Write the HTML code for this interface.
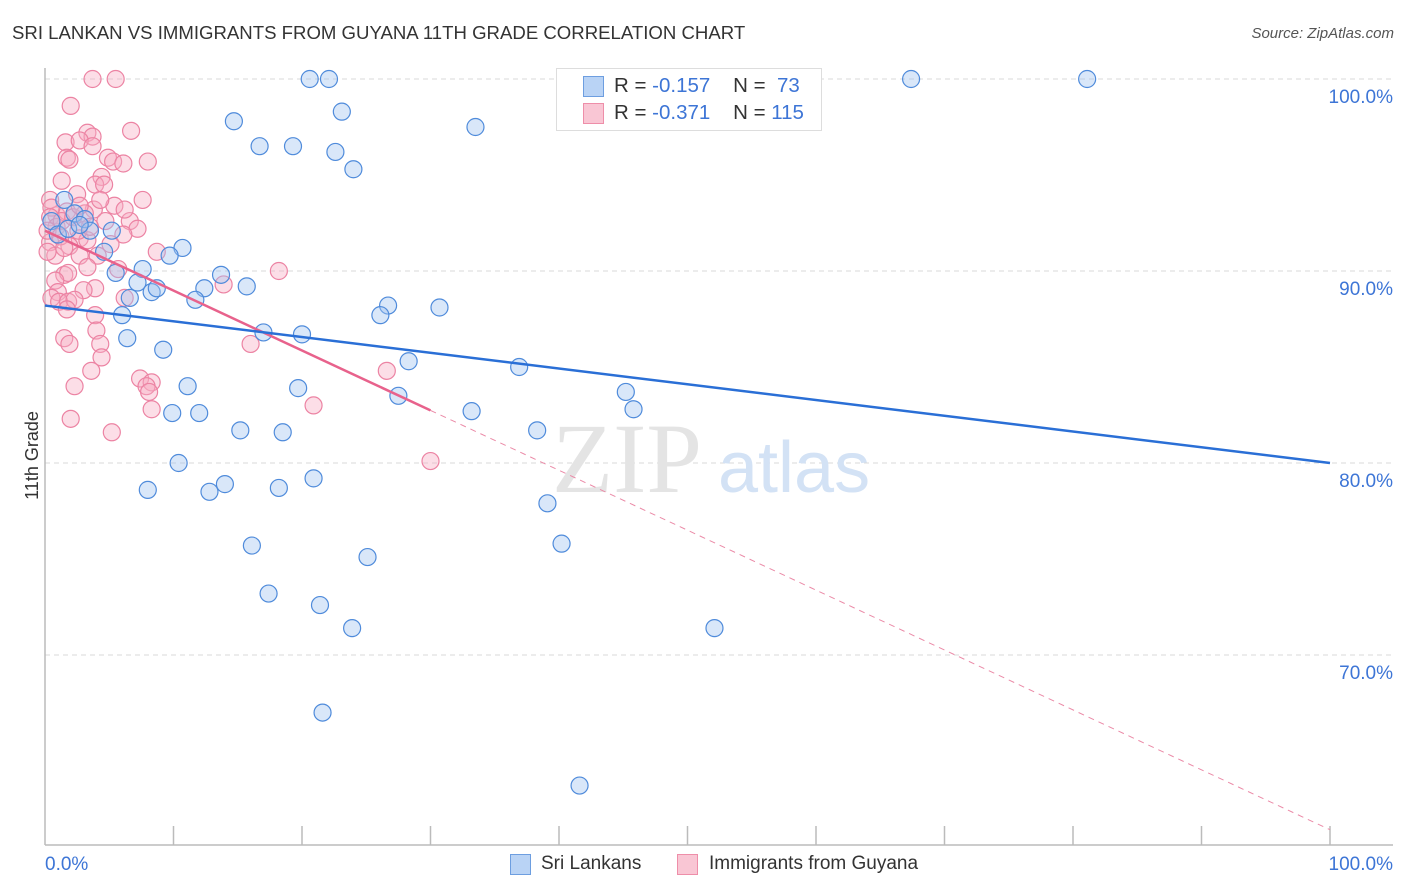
<!DOCTYPE html>
<html><head><meta charset="utf-8"><style>
body{margin:0;background:#fff;font-family:"Liberation Sans",sans-serif;}
#wrap{position:relative;width:1406px;height:892px;overflow:hidden;}
.t{position:absolute;white-space:nowrap;}
</style></head><body>
<div id="wrap">
<div class="t" style="left:12px;top:22px;font-size:18.6px;color:#333;">SRI LANKAN VS IMMIGRANTS FROM GUYANA 11TH GRADE CORRELATION CHART</div>
<div class="t" style="right:12px;top:25px;font-size:15px;color:#555;font-style:italic;">Source: ZipAtlas.com</div>
<div class="t" style="left:-12px;top:445px;font-size:18px;color:#333;transform:rotate(-90deg);">11th Grade</div>
<svg id="plot" width="1406" height="892" style="position:absolute;left:0;top:0"></svg>
<div style="position:absolute;left:556px;top:68px;width:264px;height:61px;border:1px solid #ddd;background:#fff;font-size:20.5px;">
 <div style="position:absolute;left:26px;top:7px;width:19px;height:19px;background:#b9d3f5;border:1px solid #6d9ee0;"></div>
 <div class="t" style="left:57px;top:5px;color:#333;">R = <span style="color:#3d75d6">-0.157</span>&nbsp;&nbsp;&nbsp;&nbsp;N = &nbsp;<span style="color:#3d75d6">73</span></div>
 <div style="position:absolute;left:26px;top:34px;width:19px;height:19px;background:#f9c6d4;border:1px solid #ee8ea9;"></div>
 <div class="t" style="left:57px;top:32px;color:#333;">R = <span style="color:#3d75d6">-0.371</span>&nbsp;&nbsp;&nbsp;&nbsp;N = <span style="color:#3d75d6">115</span></div>
</div>
<div style="position:absolute;left:510px;top:854px;width:19px;height:19px;background:#b9d3f5;border:1px solid #6d9ee0;"></div>
<div class="t" style="left:541px;top:853px;font-size:19px;color:#333;">Sri Lankans</div>
<div style="position:absolute;left:677px;top:854px;width:19px;height:19px;background:#f9c6d4;border:1px solid #ee8ea9;"></div>
<div class="t" style="left:709px;top:853px;font-size:19px;color:#333;">Immigrants from Guyana</div>
</div>
<script>
const yTicks=[100,90,80,70];
const yTickLabels=["100.0%","90.0%","80.0%","70.0%"];
const xTickVals=[0,10,20,30,40,50,60,70,80,90,100];
const blueX=[20.6,22.1,67.4,81.1,23.1,33.5,14.7,16.7,19.3,22.6,24.0,1.5,2.3,3.1,3.5,4.6,5.2,10.7,9.7,7.6,5.5,13.7,7.2,8.3,8.7,12.4,15.7,11.7,6.6,6.0,26.7,26.1,30.7,17.0,20.0,6.4,9.2,28.3,36.9,11.1,19.7,27.5,45.2,45.8,33.2,9.9,12.0,15.2,18.5,38.3,10.4,20.9,14.0,12.8,18.2,8.0,39.1,16.1,40.2,25.1,17.4,21.4,23.9,52.1,21.6,41.6,0.5,1.0,1.8,2.7];
const blueY=[100,100,100,100,98.3,97.5,97.8,96.5,96.5,96.2,95.3,93.7,93.0,92.7,92.1,91.0,92.1,91.2,90.8,90.1,89.9,89.8,89.4,88.9,89.1,89.1,89.2,88.5,88.6,87.7,88.2,87.7,88.1,86.8,86.7,86.5,85.9,85.3,85.0,84.0,83.9,83.5,83.7,82.8,82.7,82.6,82.6,81.7,81.6,81.7,80.0,79.2,78.9,78.5,78.7,78.6,77.9,75.7,75.8,75.1,73.2,72.6,71.4,71.4,67.0,63.2,92.6,91.9,92.2,92.4];
const pinkX=[3.7,5.5,2.0,3.3,3.7,6.7,1.6,2.7,3.7,1.7,1.9,4.9,5.3,6.1,8.0,4.4,1.3,3.9,4.6,2.5,0.4,7.6,5.4,3.8,0.9,1.7,4.7,6.6,7.2,6.1,2.7,3.3,0.4,1.9,8.7,4.1,0.8,2.7,3.3,5.7,18.2,1.5,1.8,0.8,13.9,3.9,3.0,1.0,6.2,0.5,1.1,1.8,2.3,1.7,3.9,4.0,1.5,1.9,4.3,4.4,16.0,3.6,26.6,7.4,2.3,8.3,7.9,8.1,20.9,8.3,2.0,5.2,30.0,0.5,0.4,0.9,1.3,0.2,1.2,2.2,3.1,2.6,1.5,0.2,3.5,5.1,6.2,2.7,4.3];
const pinkY=[100,100,98.6,97.2,97.0,97.3,96.7,96.8,96.5,95.9,95.8,95.9,95.7,95.6,95.7,94.9,94.7,94.5,94.5,94.0,93.7,93.7,93.4,93.2,92.9,93.1,92.6,92.6,92.2,91.9,91.7,91.6,91.5,91.3,91.0,90.8,90.8,90.8,90.2,90.1,90.0,89.8,89.9,89.5,89.3,89.1,89.0,88.9,88.6,88.6,88.4,88.4,88.5,88.0,87.7,86.9,86.5,86.2,86.2,85.5,86.2,84.8,84.8,84.4,84.0,84.2,84.0,83.7,83.0,82.8,82.3,81.6,80.1,93.3,92.8,92.3,92.6,92.1,91.8,92.8,93.0,92.1,91.2,91.0,92.3,91.4,93.2,93.4,93.7];
const blueTrend=[88.2,80.0]; // y at x=0, x=100
const pinkTrend=[92.1,60.9];
const pinkSolidEnd=30;

const NS="http://www.w3.org/2000/svg";
const svg=document.getElementById('plot');
const X0=45,X1=1330,Y100=79,PX_PER_PCT=19.2;
const sx=v=>X0+(X1-X0)*v/100;
const sy=v=>Y100+(100-v)*PX_PER_PCT;
function mk(tag,attrs,name){const e=document.createElementNS(NS,tag);for(const k in attrs)e.setAttribute(k,attrs[k]);


svg.appendChild(e);return e;}
yTicks.forEach((v,i)=>{
 mk('line',{x1:X0,x2:1393,y1:sy(v),y2:sy(v),stroke:'#d8d8d8','stroke-dasharray':'5,4','stroke-width':1},'gridline');
 const t=mk('text',{x:1393,y:sy(v)+24,'text-anchor':'end','font-size':19,fill:'#3d75d6','font-family':'Liberation Sans, sans-serif'},'y-tick-label');
 t.textContent=yTickLabels[i];
});
mk('line',{x1:X0,x2:X0,y1:68,y2:845,stroke:'#bbb','stroke-width':1.5},'y-axis');
mk('line',{x1:X0,x2:1393,y1:845,y2:845,stroke:'#bbb','stroke-width':1.5},'x-axis');
xTickVals.forEach(v=>{if(v>0)mk('line',{x1:sx(v),x2:sx(v),y1:826,y2:845,stroke:'#bbb','stroke-width':1.5},'x-tick');});
let t=mk('text',{x:45,y:870,'font-size':19,fill:'#3d75d6','font-family':'Liberation Sans, sans-serif'},'x-tick-label');t.textContent='0.0%';
t=mk('text',{x:1393,y:870,'text-anchor':'end','font-size':19,fill:'#3d75d6','font-family':'Liberation Sans, sans-serif'},'x-tick-label');t.textContent='100.0%';
t=mk('text',{x:552,y:492,'font-size':100,fill:'#e4e4e4','font-family':'Liberation Serif, serif'},'watermark-zip');t.textContent='ZIP';
t=mk('text',{x:718,y:492,'font-size':72,fill:'#d3e2f5','font-family':'Liberation Sans, sans-serif'},'watermark-atlas');t.textContent='atlas';
pinkX.forEach((x,i)=>mk('circle',{cx:sx(x),cy:sy(pinkY[i]),r:8.5,fill:'rgba(247,172,195,0.4)',stroke:'#ec83a3','stroke-width':1.2},'guyana-point'));
blueX.forEach((x,i)=>mk('circle',{cx:sx(x),cy:sy(blueY[i]),r:8.5,fill:'rgba(160,195,240,0.4)',stroke:'#4f8bdb','stroke-width':1.2},'sri-lankan-point'));
const pAt=x=>pinkTrend[0]+(pinkTrend[1]-pinkTrend[0])*x/100;
mk('line',{x1:sx(pinkSolidEnd),y1:sy(pAt(pinkSolidEnd)),x2:sx(100),y2:sy(pinkTrend[1]),stroke:'#eb8aa7','stroke-width':1,'stroke-dasharray':'6,5'},'guyana-trend-extension');
mk('line',{x1:sx(0),y1:sy(pinkTrend[0]),x2:sx(pinkSolidEnd),y2:sy(pAt(pinkSolidEnd)),stroke:'#e8628c','stroke-width':2.5},'guyana-trend-line');
mk('line',{x1:sx(0),y1:sy(blueTrend[0]),x2:sx(100),y2:sy(blueTrend[1]),stroke:'#2a6fd6','stroke-width':2.5},'sri-lankan-trend-line');
</script>
</body></html>
